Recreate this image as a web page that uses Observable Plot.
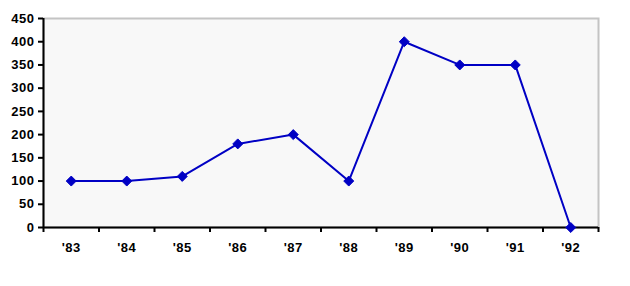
<!DOCTYPE html>
<html><head><meta charset="utf-8">
<script src="https://cdn.jsdelivr.net/npm/d3@7"></script>
<script src="https://cdn.jsdelivr.net/npm/@observablehq/plot@0.6"></script>
<style>body{margin:0;background:#fff}svg text{letter-spacing:0.5px}</style>
</head><body><div id="chart"></div>
<script>
const years = ["'83","'84","'85","'86","'87","'88","'89","'90","'91","'92"];
const values = [100,100,110,180,200,100,400,350,350,0];
const yTicks = [0,50,100,150,200,250,300,350,400,450];

const data = years.map((y, i) => ({i, year: y, value: values[i]}));
const boundaries = d3.range(-0.5, years.length, 1);
const lineColor = "#0000c4";

const chart = Plot.plot({
  width: 630, height: 286,
  marginLeft: 43, marginRight: 32, marginTop: 18, marginBottom: 59,
  style: {fontFamily: "'Liberation Sans', Arial, sans-serif", fontSize: "13px", fontWeight: "bold", color: "#000", background: "#fff"},
  x: {type: "linear", domain: [-0.5, years.length - 0.5]},
  y: {domain: [0, 450]},
  marks: [
    Plot.frame({fill: "#f8f8f8", stroke: "#c4c4c4", strokeWidth: 2}),
    Plot.axisY({ticks: yTicks, tickSize: 5, tickPadding: 4, strokeWidth: 2, label: null, tickFormat: d => String(d)}),
    Plot.axisX({ticks: boundaries, tickFormat: () => "", tickSize: 5, strokeWidth: 2, label: null}),
    Plot.axisX({ticks: data.map(d => d.i), tickSize: 0, tickPadding: 15, tickFormat: i => years[i], label: null}),
    Plot.ruleX([-0.5], {stroke: "#000", strokeWidth: 2}),
    Plot.ruleY([0], {stroke: "#000", strokeWidth: 2}),
    Plot.line(data, {x: "i", y: "value", stroke: lineColor, strokeWidth: 2}),
    Plot.dot(data, {x: "i", y: "value", symbol: "diamond2", r: 4.5, fill: lineColor, stroke: lineColor, strokeWidth: 1})
  ]
});
document.getElementById("chart").append(chart);
</script>
</body></html>
